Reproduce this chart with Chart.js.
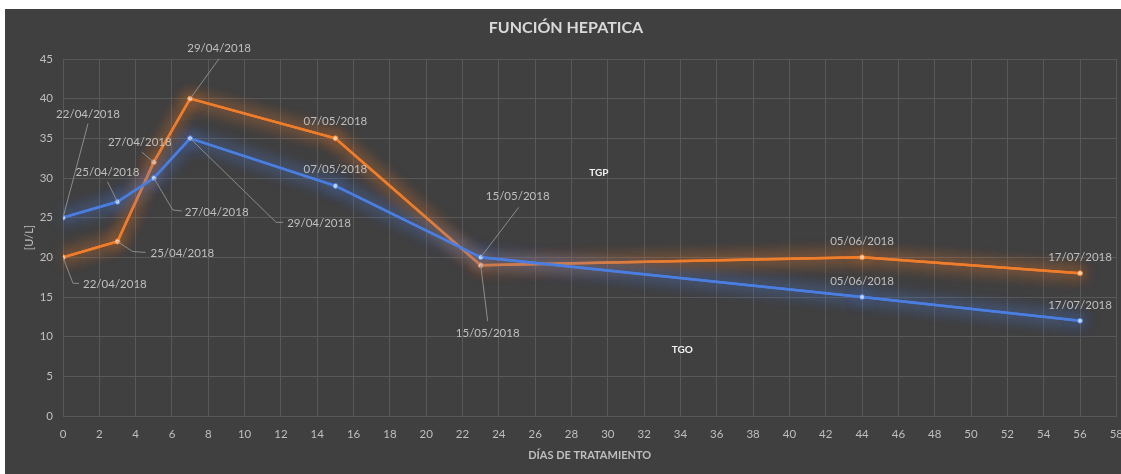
<!DOCTYPE html>
<html lang="es">
<head>
<meta charset="UTF-8">
<title>Función hepática</title>
<script src="https://cdn.jsdelivr.net/npm/chart.js"></script>
<style>
    body { margin: 0; background: #fff; }
    #wrap { position: absolute; left: 5px; top: 9px; width: 1116px; height: 465px; overflow: hidden; background: #404040; }
    canvas { display: block; }
</style>
</head>
<body>
<div id="wrap"><canvas id="hepChart" width="1129" height="465"></canvas></div>
<script>
    // data
    const dias = [0, 3, 5, 7, 15, 23, 44, 56];
    const fechas = ["22/04/2018", "25/04/2018", "27/04/2018", "29/04/2018", "07/05/2018", "15/05/2018", "05/06/2018", "17/07/2018"];
    const tgo = [25, 27, 30, 35, 29, 20, 15, 12];
    const tgp = [20, 22, 32, 40, 35, 19, 20, 18];
    const seriesNames = ["TGO", "TGP"];

    // where the date labels sit relative to their point (px), and leader lines
    const labelPos = [
        [ // TGO
            { t: [25, -103], a: "center", l: [[25, -94]] },
            { t: [-10, -30], a: "center", l: [[-10, -20]] },
            { t: [31, 34], a: "left", l: [[19, 32], [28, 33]] },
            { t: [97, 85], a: "left", l: [[86, 84], [93, 84]] },
            { t: [0, -17], a: "center" },
            { t: [37, -61], a: "center", l: [[38, -50]] },
            { t: [0, -16], a: "center" },
            { t: [0, -16], a: "center" }
        ],
        [ // TGP
            { t: [20, 27], a: "left", l: [[10, 26], [16, 26]] },
            { t: [33, 12], a: "left", l: [[15, 10], [28, 11]] },
            { t: [-14, -20], a: "center", l: [[-12, -10]] },
            { t: [29, -50], a: "center", l: [[29, -40]] },
            { t: [0, -17], a: "center" },
            { t: [7, 68], a: "center", l: [[7, 56]] },
            { t: [0, -16], a: "center" },
            { t: [0, -16], a: "center" }
        ]
    ];
    // floating series names, in axis units
    const namePos = [[34.1, 8.3], [29.5, 30.6]];

    const grid = "#595959";
    const txt = "#bfbfbf";
    const fontFam = "Lato, 'Liberation Sans', sans-serif";

    // soft glow round each line: one extra blurred pass, then the normal one
    const glow = {
        id: "glow",
        beforeDatasetDraw(chart, args) {
            const ctx = chart.ctx;
            ctx.save();
            ctx.shadowColor = args.meta.dataset.options.borderColor;
            ctx.shadowBlur = 16;
            args.meta.dataset.draw(ctx, chart.chartArea);
        },
        afterDatasetDraw(chart) {
            chart.ctx.restore();
        }
    };

    const extras = {
        id: "extras",
        afterDatasetsDraw(chart) {
            const ctx = chart.ctx;
            ctx.save();
            // title (centred on the whole chart box, not the plot)
            ctx.fillStyle = "#d9d9d9";
            ctx.font = "bold 16px " + fontFam;
            ctx.textAlign = "center";
            ctx.textBaseline = "middle";
            ctx.fillText("FUNCIÓN HEPATICA", 561, 19);

            chart.data.datasets.forEach((ds, di) => {
                const meta = chart.getDatasetMeta(di);
                meta.data.forEach((pt, i) => {
                    const lp = labelPos[di][i];
                    if (lp.l) {
                        ctx.strokeStyle = "#8c8c8c";
                        ctx.lineWidth = 1;
                        ctx.beginPath();
                        ctx.moveTo(pt.x, pt.y);
                        lp.l.forEach(p => ctx.lineTo(pt.x + p[0], pt.y + p[1]));
                        ctx.stroke();
                    }
                    ctx.fillStyle = txt;
                    ctx.font = "11.5px " + fontFam;
                    ctx.textAlign = lp.a;
                    ctx.textBaseline = "middle";
                    ctx.fillText(fechas[i], pt.x + lp.t[0], pt.y + lp.t[1]);
                });
            });

            ctx.fillStyle = "#f2f2f2";
            ctx.font = "bold 10px " + fontFam;
            ctx.textAlign = "center";
            seriesNames.forEach((n, k) => {
                ctx.fillText(n, chart.scales.x.getPixelForValue(namePos[k][0]), chart.scales.y.getPixelForValue(namePos[k][1]));
            });
            ctx.restore();
        }
    };

    new Chart(document.getElementById("hepChart"), {
        type: "scatter",
        data: {
            datasets: [
                {
                    label: seriesNames[0],
                    data: dias.map((d, i) => ({ x: d, y: tgo[i] })),
                    showLine: true,
                    borderColor: "#4a7ee0",
                    borderWidth: 2.5,
                    pointRadius: 2.5,
                    pointBackgroundColor: "#c9d8f5",
                    pointBorderColor: "#4a7ee0",
                    pointBorderWidth: 1
                },
                {
                    label: seriesNames[1],
                    data: dias.map((d, i) => ({ x: d, y: tgp[i] })),
                    showLine: true,
                    borderColor: "#f07d2a",
                    borderWidth: 2.5,
                    pointRadius: 2.5,
                    pointBackgroundColor: "#f9d3b5",
                    pointBorderColor: "#f07d2a",
                    pointBorderWidth: 1
                }
            ]
        },
        options: {
            responsive: false,
            animation: false,
            layout: { padding: { top: 50, right: 10, left: 0, bottom: 0 } },
            plugins: {
                legend: { display: false },
                tooltip: { enabled: false }
            },
            scales: {
                x: {
                    type: "linear",
                    min: 0, max: 58,
                    afterFit: s => { s.height = 58; },
                    ticks: { stepSize: 2, color: txt, padding: 11, font: { family: fontFam, size: 11.5 } },
                    grid: { color: grid, drawTicks: false },
                    border: { color: grid },
                    title: { display: true, text: "DÍAS DE TRATAMIENTO", color: txt, padding: { top: 0, bottom: 12 }, font: { family: fontFam, size: 11, weight: "bold", lineHeight: 1.2 } }
                },
                y: {
                    min: 0, max: 45,
                    afterFit: s => { s.width = 58; },
                    ticks: { stepSize: 5, color: txt, padding: 10, font: { family: fontFam, size: 11.5 } },
                    grid: { color: grid, drawTicks: false },
                    border: { color: grid },
                    title: { display: true, text: "[U/L]", color: txt, padding: { top: 18, bottom: 0 }, font: { family: fontFam, size: 11, lineHeight: 1.2 } }
                }
            }
        },
        plugins: [glow, extras]
    });
</script>
</body>
</html>
